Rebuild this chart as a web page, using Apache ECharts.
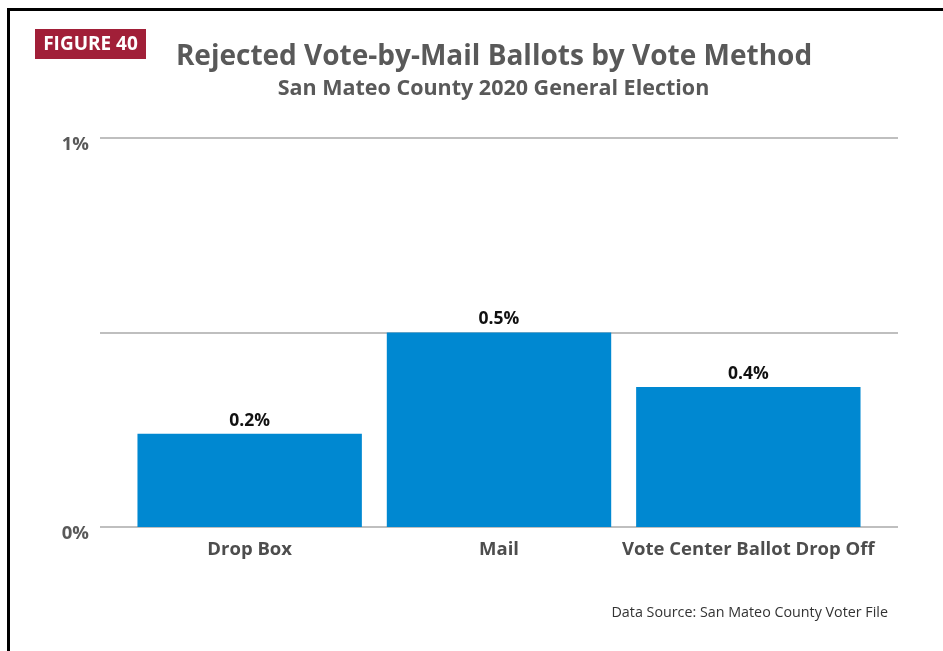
<!DOCTYPE html>
<html><head><meta charset="utf-8">
<script src="https://cdn.jsdelivr.net/npm/echarts@6/dist/echarts.min.js"></script>
<style>html,body{margin:0;padding:0;background:#fff}#c{width:943px;height:651px}</style>
</head><body><div id="c"></div>
<script>
var categories = ['Drop Box', 'Mail', 'Vote Center Ballot Drop Off'];
var rejectedPct = [0.24, 0.50, 0.36];
var yTicks = [0, 0.5, 1];
var yTickLabels = {0: '0%', 1: '1%'};

var chart = echarts.init(document.getElementById('c'));
var FONT = '"Open Sans", sans-serif';
chart.setOption({
  animation: false,
  backgroundColor: '#fff',
  graphic: [
    {type: 'rect', shape: {x: 8.5, y: 9.5, width: 1000, height: 1000}, style: {fill: 'none', stroke: '#000', lineWidth: 3}},
    {type: 'rect', shape: {x: 35, y: 29, width: 111, height: 30}, style: {fill: '#A11F38'}},
    {type: 'text', x: 90.5, y: 44.5, style: {text: 'FIGURE 40', fill: '#fff', font: 'bold 19px ' + FONT, textAlign: 'center', textVerticalAlign: 'middle'}},
    {type: 'text', x: 494, y: 57, style: {text: 'Rejected Vote-by-Mail Ballots by Vote Method', fill: '#595959', font: 'bold 28px ' + FONT, textAlign: 'center', textVerticalAlign: 'middle'}},
    {type: 'text', x: 493.5, y: 88.5, style: {text: 'San Mateo County 2020 General Election', fill: '#595959', font: 'bold 21.5px ' + FONT, textAlign: 'center', textVerticalAlign: 'middle'}},
    {type: 'text', x: 888, y: 613, style: {text: 'Data Source: San Mateo County Voter File', fill: '#333', font: '14.3px ' + FONT, textAlign: 'right', textVerticalAlign: 'middle'}}
  ],
  grid: [
    {left: 100, right: 45, top: 138, bottom: 124},
    {left: 125, right: 70, top: 138, bottom: 124}
  ],
  xAxis: [
    {gridIndex: 0, type: 'value', min: 0, max: 1, show: false},
    {gridIndex: 1, type: 'category', data: categories,
     axisLine: {show: false}, axisTick: {show: false},
     axisLabel: {interval: 0, color: '#4d4d4d', fontFamily: FONT, fontWeight: 'bold', fontSize: 18.5, margin: 13}}
  ],
  yAxis: [
    {gridIndex: 0, type: 'value', min: yTicks[0], max: yTicks[yTicks.length - 1], interval: 0.5,
     axisLine: {show: false}, axisTick: {show: false},
     splitLine: {lineStyle: {color: '#aaaaaa', width: 1.5}},
     axisLabel: {color: '#595959', fontFamily: FONT, fontWeight: 'bold', fontSize: 18.5, margin: 11,
       verticalAlign: 'top', lineHeight: 14,
       formatter: function (v) { return yTickLabels[v] || ''; }}},
    {gridIndex: 1, type: 'value', min: yTicks[0], max: yTicks[yTicks.length - 1], show: false}
  ],
  series: [{
    type: 'bar', xAxisIndex: 1, yAxisIndex: 1, data: rejectedPct,
    barWidth: '90%',
    itemStyle: {color: '#0088D1'},
    label: {show: true, position: 'top', distance: 4, color: '#111', fontFamily: FONT, fontWeight: 'bold', fontSize: 17.5,
      formatter: function (p) { return p.value.toFixed(1) + '%'; }}
  }]
});
</script></body></html>
